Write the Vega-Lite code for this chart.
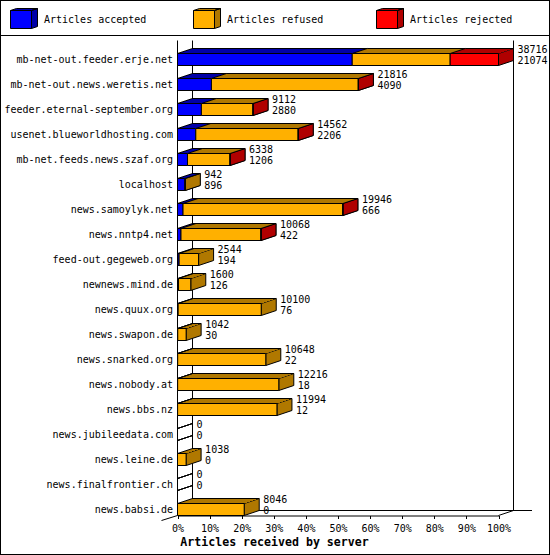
{
  "$schema": "https://vega.github.io/schema/vega-lite/v6.json",
  "width": 550,
  "height": 555,
  "padding": 0,
  "autosize": {"type": "none"},
  "background": "white",
  "view": {"stroke": "black", "strokeWidth": 2, "fill": "white"},
  "config": {
    "font": "DejaVu Sans Mono",
    "axis": {"labelFont": "DejaVu Sans Mono", "labelFontSize": 10, "labelColor": "black", "domainColor": "black", "tickColor": "black", "grid": false},
    "text": {"font": "DejaVu Sans Mono", "fontSize": 10, "color": "black"}
  },
  "data": {
    "values": [
      {"server": "mb-net-out.feeder.erje.net", "accepted": 21074, "refused": 11812, "rejected": 5830},
      {"server": "mb-net-out.news.weretis.net", "accepted": 4090, "refused": 17714, "rejected": 12},
      {"server": "feeder.eternal-september.org", "accepted": 2880, "refused": 6222, "rejected": 10},
      {"server": "usenet.blueworldhosting.com", "accepted": 2206, "refused": 12348, "rejected": 8},
      {"server": "mb-net.feeds.news.szaf.org", "accepted": 1206, "refused": 5126, "rejected": 6},
      {"server": "localhost", "accepted": 896, "refused": 46, "rejected": 0},
      {"server": "news.samoylyk.net", "accepted": 666, "refused": 19276, "rejected": 4},
      {"server": "news.nntp4.net", "accepted": 422, "refused": 9644, "rejected": 2},
      {"server": "feed-out.gegeweb.org", "accepted": 194, "refused": 2350, "rejected": 0},
      {"server": "newnews.mind.de", "accepted": 126, "refused": 1474, "rejected": 0},
      {"server": "news.quux.org", "accepted": 76, "refused": 10024, "rejected": 0},
      {"server": "news.swapon.de", "accepted": 30, "refused": 1012, "rejected": 0},
      {"server": "news.snarked.org", "accepted": 22, "refused": 10626, "rejected": 0},
      {"server": "news.nobody.at", "accepted": 18, "refused": 12198, "rejected": 0},
      {"server": "news.bbs.nz", "accepted": 12, "refused": 11982, "rejected": 0},
      {"server": "news.jubileedata.com", "accepted": 0, "refused": 0, "rejected": 0},
      {"server": "news.leine.de", "accepted": 0, "refused": 1038, "rejected": 0},
      {"server": "news.finalfrontier.ch", "accepted": 0, "refused": 0, "rejected": 0},
      {"server": "news.babsi.de", "accepted": 0, "refused": 8046, "rejected": 0}
    ]
  },
  "resolve": {"scale": {"x": "independent", "y": "independent"}},
  "layer": [
    {
      "transform": [
        {"fold": ["accepted", "refused", "rejected"], "as": ["series", "count"]},
        {"joinaggregate": [{"op": "sum", "field": "count", "as": "total"}], "groupby": ["server"]},
        {"stack": "count", "groupby": ["server"], "sort": [{"field": "series", "order": "ascending"}], "as": ["x0", "x1"]}
      ],
      "encoding": {
        "y": {
          "field": "server",
          "type": "nominal",
          "title": null,
          "scale": {
            "type": "point",
            "padding": 0,
            "range": [59.5, 509.5],
            "domain": ["mb-net-out.feeder.erje.net", "mb-net-out.news.weretis.net", "feeder.eternal-september.org", "usenet.blueworldhosting.com", "mb-net.feeds.news.szaf.org", "localhost", "news.samoylyk.net", "news.nntp4.net", "feed-out.gegeweb.org", "newnews.mind.de", "news.quux.org", "news.swapon.de", "news.snarked.org", "news.nobody.at", "news.bbs.nz", "news.jubileedata.com", "news.leine.de", "news.finalfrontier.ch", "news.babsi.de"]
          },
          "axis": {"orient": "left", "offset": -177.5, "domain": false, "ticks": false, "labelPadding": 5, "labelOffset": -0.5, "labelFontSize": 10}
        }
      },
      "layer": [
        {
          "data": {"values": [{"wall": "left"}]},
          "mark": {"type": "rule", "color": "black", "yOffset": -19, "y2Offset": 6},
          "encoding": {
            "x": {
              "datum": 0,
              "type": "quantitative",
              "title": "Articles received by server",
              "scale": {"domain": [0, 38716], "nice": false, "range": [177.5, 498.5]},
              "axis": {
                "orient": "bottom",
                "offset": -39.5,
                "values": [0, 3871.6, 7743.2, 11614.8, 15486.4, 19358, 23229.6, 27101.2, 30972.8, 34844.4, 38716],
                "labelExpr": "round(datum.value / 387.16) + '%'",
                "tickSize": 3,
                "labelPadding": 5,
                "labelFlush": false,
                "labelOverlap": false,
                "titleFont": "DejaVu Sans Mono",
                "titleFontSize": 11.6,
                "titleFontWeight": "bold",
                "titleColor": "black",
                "titleX": 274,
                "titleY": 20.5
              }
            },
            "y": {"datum": "mb-net-out.feeder.erje.net", "type": "nominal"},
            "y2": {"datum": "news.babsi.de"}
          }
        },
        {
          "data": {"values": [{"wall": "back"}]},
          "mark": {"type": "rule", "color": "black", "xOffset": 15, "x2Offset": 15, "yOffset": -19, "y2Offset": 1},
          "encoding": {
            "x": {"datum": 0, "type": "quantitative", "title": "Articles received by server"},
            "y": {"datum": "mb-net-out.feeder.erje.net", "type": "nominal"},
            "y2": {"datum": "news.babsi.de"}
          }
        },
        {
          "data": {"values": [{"wall": "right"}]},
          "mark": {"type": "rule", "color": "black", "xOffset": 15, "x2Offset": 15, "yOffset": -19, "y2Offset": 1},
          "encoding": {
            "x": {"datum": 38716, "type": "quantitative", "title": "Articles received by server"},
            "y": {"datum": "mb-net-out.feeder.erje.net", "type": "nominal"},
            "y2": {"datum": "news.babsi.de"}
          }
        },
        {
          "data": {"values": [{"wall": "floor"}]},
          "mark": {"type": "rule", "color": "black", "xOffset": 15, "x2Offset": 33.5, "yOffset": 1},
          "encoding": {
            "x": {"datum": 0, "type": "quantitative", "title": "Articles received by server"},
            "x2": {"datum": 38716},
            "y": {"datum": "news.babsi.de", "type": "nominal"}
          }
        },
        {
          "data": {"values": [{"wall": "left tick"}]},
          "mark": {"type": "rule", "color": "black", "xOffset": -16, "yOffset": 11, "y2Offset": 6},
          "encoding": {
            "x": {"datum": 0, "type": "quantitative", "title": "Articles received by server"},
            "x2": {"datum": 0},
            "y": {"datum": "news.babsi.de", "type": "nominal"},
            "y2": {"datum": "news.babsi.de"}
          }
        },
        {
          "data": {"values": [{"wall": "right tick"}]},
          "mark": {"type": "rule", "color": "black", "x2Offset": 15, "yOffset": 6, "y2Offset": 1},
          "encoding": {
            "x": {"datum": 38716, "type": "quantitative", "title": "Articles received by server"},
            "x2": {"datum": 38716},
            "y": {"datum": "news.babsi.de", "type": "nominal"},
            "y2": {"datum": "news.babsi.de"}
          }
        },
        {
          "transform": [{"filter": "datum.count > 0"}],
          "mark": {"type": "point", "filled": true, "opacity": 1, "stroke": "black", "strokeWidth": 1, "size": 4, "shape": "M0,-6 L15,-11 L15,1 L0,6 Z"},
          "encoding": {
            "x": {"field": "x1", "type": "quantitative", "title": "Articles received by server"},
            "fill": {"field": "series", "type": "nominal", "legend": null, "scale": {"domain": ["accepted", "refused", "rejected"], "range": ["#0000a8", "#b07800", "#b00000"]}}
          }
        },
        {
          "transform": [{"filter": "datum.total == 0"}],
          "mark": {"type": "point", "filled": false, "opacity": 1, "stroke": "black", "strokeWidth": 1, "size": 4, "shape": "M0,-6 L15,-11 M0,6 L15,1"},
          "encoding": {
            "x": {"field": "x1", "type": "quantitative", "title": "Articles received by server"}
          }
        },
        {
          "transform": [{"filter": "datum.count > 0"}],
          "mark": {"type": "bar", "height": 1, "xOffset": 3, "x2Offset": 3, "yOffset": -7},
          "encoding": {
            "x": {"field": "x0", "type": "quantitative", "title": "Articles received by server"},
            "x2": {"field": "x1"},
            "fill": {"field": "series", "type": "nominal", "legend": null}
          }
        },
        {
          "transform": [{"filter": "datum.count > 0"}],
          "mark": {"type": "bar", "height": 1, "xOffset": 6, "x2Offset": 6, "yOffset": -8},
          "encoding": {
            "x": {"field": "x0", "type": "quantitative", "title": "Articles received by server"},
            "x2": {"field": "x1"},
            "fill": {"field": "series", "type": "nominal", "legend": null}
          }
        },
        {
          "transform": [{"filter": "datum.count > 0"}],
          "mark": {"type": "bar", "height": 1, "xOffset": 9, "x2Offset": 9, "yOffset": -9},
          "encoding": {
            "x": {"field": "x0", "type": "quantitative", "title": "Articles received by server"},
            "x2": {"field": "x1"},
            "fill": {"field": "series", "type": "nominal", "legend": null}
          }
        },
        {
          "transform": [{"filter": "datum.count > 0"}],
          "mark": {"type": "bar", "height": 1, "xOffset": 12, "x2Offset": 12, "yOffset": -10},
          "encoding": {
            "x": {"field": "x0", "type": "quantitative", "title": "Articles received by server"},
            "x2": {"field": "x1"},
            "fill": {"field": "series", "type": "nominal", "legend": null}
          }
        },
        {
          "transform": [{"filter": "datum.count > 0"}],
          "mark": {"type": "bar", "height": 1, "xOffset": 15, "x2Offset": 15, "yOffset": -11, "fill": "black"},
          "encoding": {
            "x": {"field": "x0", "type": "quantitative", "title": "Articles received by server"},
            "x2": {"field": "x1"}
          }
        },
        {
          "transform": [{"filter": "datum.count > 0"}],
          "mark": {"type": "point", "filled": false, "opacity": 1, "stroke": "black", "strokeWidth": 1, "size": 4, "shape": "M0,-6 L15,-11"},
          "encoding": {
            "x": {"field": "x0", "type": "quantitative", "title": "Articles received by server"}
          }
        },
        {
          "transform": [{"filter": "datum.count > 0"}],
          "mark": {"type": "bar", "height": 12, "stroke": "black", "strokeWidth": 1, "opacity": 1},
          "encoding": {
            "x": {"field": "x0", "type": "quantitative", "title": "Articles received by server"},
            "x2": {"field": "x1"},
            "color": {"field": "series", "type": "nominal", "legend": null, "scale": {"domain": ["accepted", "refused", "rejected"], "range": ["#0000ff", "#ffb000", "#ff0000"]}}
          }
        },
        {
          "transform": [{"filter": "datum.series == 'accepted'"}],
          "mark": {"type": "text", "align": "left", "baseline": "middle", "dx": 19, "dy": -9.5},
          "encoding": {
            "x": {"field": "total", "type": "quantitative", "title": "Articles received by server"},
            "text": {"field": "total", "type": "quantitative"}
          }
        },
        {
          "transform": [{"filter": "datum.series == 'accepted'"}],
          "mark": {"type": "text", "align": "left", "baseline": "middle", "dx": 19, "dy": 1.5},
          "encoding": {
            "x": {"field": "total", "type": "quantitative", "title": "Articles received by server"},
            "text": {"field": "count", "type": "quantitative"}
          }
        }
      ]
    },
    {
      "data": {
        "values": [
          {"series": "accepted", "label": "Articles accepted"},
          {"series": "refused", "label": "Articles refused"},
          {"series": "rejected", "label": "Articles rejected"}
        ]
      },
      "encoding": {
        "x": {"field": "series", "type": "nominal", "axis": null, "scale": {"type": "point", "padding": 0, "domain": ["accepted", "refused", "rejected"], "range": [21, 387]}},
        "y": {"datum": "legend", "type": "nominal", "axis": null, "scale": {"type": "point", "padding": 0, "domain": ["legend", "separator"], "range": [19.5, 35.5]}}
      },
      "layer": [
        {
          "mark": {"type": "point", "filled": true, "opacity": 1, "stroke": "black", "strokeWidth": 1, "size": 4, "shape": "M10.5,-9 L16.5,-11 L16.5,7 L10.5,9 Z M-10.5,-9 L-4.5,-11 L16.5,-11 L10.5,-9 Z"},
          "encoding": {
            "fill": {"field": "series", "type": "nominal", "legend": null, "scale": {"domain": ["accepted", "refused", "rejected"], "range": ["#0000a8", "#b07800", "#b00000"]}}
          }
        },
        {
          "mark": {"type": "point", "filled": true, "opacity": 1, "stroke": "black", "strokeWidth": 1, "size": 4, "shape": "M-10.5,-9 L10.5,-9 L10.5,9 L-10.5,9 Z"},
          "encoding": {
            "color": {"field": "series", "type": "nominal", "legend": null, "scale": {"domain": ["accepted", "refused", "rejected"], "range": ["#0000ff", "#ffb000", "#ff0000"]}},
            "stroke": {"value": "black"}
          }
        },
        {
          "mark": {"type": "text", "align": "left", "baseline": "middle", "dx": 23},
          "encoding": {"text": {"field": "label", "type": "nominal"}}
        },
        {
          "data": {"values": [{"series": "accepted"}]},
          "mark": {"type": "rule", "color": "black"},
          "encoding": {"x": null, "y": {"datum": "separator", "type": "nominal", "axis": null}}
        }
      ]
    }
  ]
}
